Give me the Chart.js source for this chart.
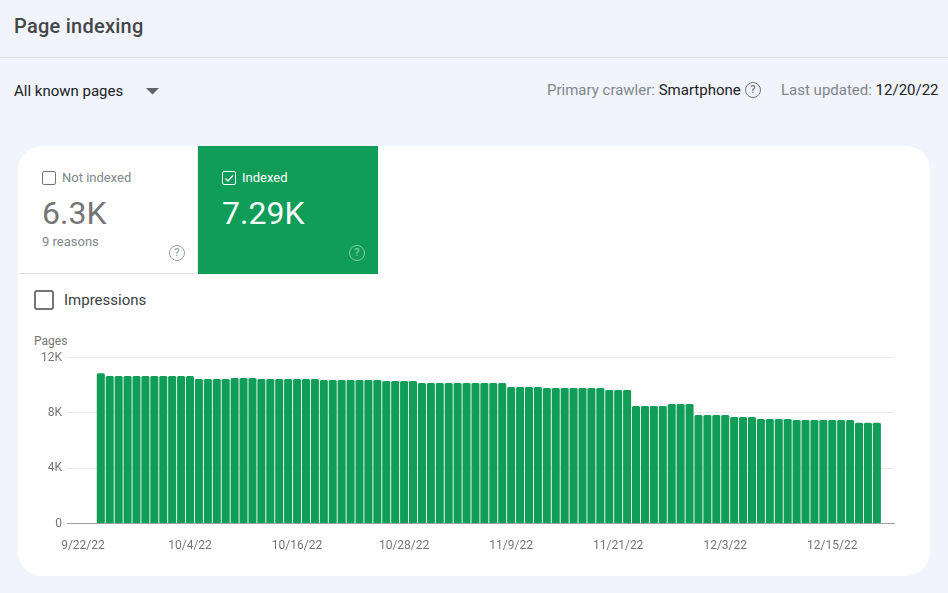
<!DOCTYPE html>
<html><head><meta charset="utf-8">
<script src="https://cdn.jsdelivr.net/npm/chart.js@4"></script>
<style>
html,body{margin:0;padding:0;width:948px;height:593px;overflow:hidden;background:#f1f4fd;font-family:Roboto,sans-serif}
.a{position:absolute;white-space:nowrap;line-height:1}
.help{position:absolute;box-sizing:border-box;width:16px;height:16px;border:1.6px solid #9aa0a6;border-radius:50%;color:#9aa0a6;font-size:11px;font-weight:500;line-height:13px;text-align:center}
.box{position:absolute;box-sizing:border-box;border:1.5px solid #757575;border-radius:2px}
canvas{position:absolute;left:0;top:0}
</style></head><body>
<div class="a" style="left:14px;top:16px;font-size:20px;font-weight:500;color:#444746;letter-spacing:.25px">Page indexing</div>
<div class="a" style="left:0;top:57px;width:948px;height:1px;background:#dadce0"></div>
<div class="a" style="left:14px;top:84px;font-size:15px;font-weight:400;color:#202124">All known pages</div>
<svg class="a" style="left:146px;top:88px" width="13" height="7"><polygon points="0,0 13,0 6.5,6.5" fill="#5f6368"/></svg>
<div class="a" style="left:547px;top:83px;font-size:15px;color:#80868b">Primary crawler: <span style="color:#202124">Smartphone</span></div>
<div class="help" style="left:745px;top:82px;border-color:#757575;color:#757575">?</div>
<div class="a" style="left:781px;top:83px;font-size:15px;color:#80868b">Last updated: <span style="color:#202124">12/20/22</span></div>

<div class="a" style="left:18px;top:146px;width:912px;height:430px;background:#fff;border-radius:24px"></div>
<div class="a" style="left:18px;top:273px;width:180px;height:1px;background:#e0e0e0"></div>
<div class="a" style="left:197px;top:146px;width:1px;height:127px;background:#eeeeee"></div>
<div class="a" style="left:198px;top:146px;width:180px;height:128px;background:#0f9d58"></div>

<div class="box" style="left:42px;top:171px;width:14px;height:14px"></div>
<div class="a" style="left:62px;top:171px;font-size:13px;color:#80868b">Not indexed</div>
<div class="a" style="left:42px;top:197px;font-size:32px;color:#757575">6.3K</div>
<div class="a" style="left:42px;top:235px;font-size:13px;color:#80868b">9 reasons</div>
<div class="help" style="left:169px;top:245px">?</div>

<div class="box" style="left:222px;top:171px;width:14px;height:14px;border-color:#fff"></div>
<svg class="a" style="left:222px;top:171px" width="14" height="14"><polyline points="3.5,7.5 6,10 11,4.5" fill="none" stroke="#fff" stroke-width="1.3"/></svg>
<div class="a" style="left:242px;top:171px;font-size:13px;color:#fff">Indexed</div>
<div class="a" style="left:222px;top:197px;font-size:32px;color:#fff">7.29K</div>
<div class="help" style="left:349px;top:245px;border-color:#7fcca8;color:#7fcca8">?</div>

<div class="box" style="left:34px;top:290px;width:20px;height:20px;border:2px solid #757575;border-radius:3px"></div>
<div class="a" style="left:64px;top:293px;font-size:15px;color:#3c4043">Impressions</div>
<div class="a" style="left:34px;top:335px;font-size:12px;color:#757575">Pages</div>

<canvas id="c" width="948" height="593"></canvas>
<script>
const tickDays = [0,12,24,36,48,60,72,84];
const tickLabels = ['9/22/22','10/4/22','10/16/22','10/28/22','11/9/22','11/21/22','12/3/22','12/15/22'];
const yTicks = [0,4000,8000,12000];
const yLabels = ['0','4K','8K','12K'];
const firstDay = 2;
const pages = [10860,
 10660,10660,10660,10660,10660,10660,10660,10660,10660,10660,
 10440,10440,10440,10440,
 10520,10520,10520,
 10440,10440,10440,10440,10440,10440,10440,
 10370,10370,10370,10370,10370,10370,10370,
 10300,10300,10300,10300,
 10150,10150,10150,10150,10150,10150,10150,10150,10150,10150,
 9870,9870,9870,9870,
 9795,9795,9795,9795,9795,9795,9795,
 9650,9650,9650,
 8495,8495,8495,8495,
 8640,8640,8640,
 7850,7850,7850,7850,
 7700,7700,7700,
 7560,7560,7560,7560,
 7480,7480,7480,7480,7480,7480,7480,
 7290,7290,7290];
const points = pages.map((v,i)=>({x:firstDay+i,y:v}));
const font = {family:'Roboto',size:12};
new Chart(document.getElementById('c'),{
 type:'bar',
 data:{datasets:[{data:points,backgroundColor:'#0f9d58',barPercentage:.9,categoryPercentage:1,borderRadius:{topLeft:1.5,topRight:1.5}}]},
 options:{responsive:false,animation:false,
  layout:{padding:{left:0,top:357.5,right:54,bottom:29.5}},
  plugins:{legend:{display:false},tooltip:{enabled:false}},
  scales:{
   x:{type:'linear',offset:false,min:-1.79,max:90.92,
    afterBuildTicks:s=>{s.ticks=tickDays.map(v=>({value:v}));},
    afterFit:s=>{s.height=40;},
    grid:{display:false,drawTicks:false},
    border:{color:'#9aa0a6',width:1},
    ticks:{autoSkip:false,maxRotation:0,minRotation:0,padding:15,color:'#757575',font,
      callback:v=>tickLabels[tickDays.indexOf(v)]}},
   y:{min:0,max:12000,
    afterBuildTicks:s=>{s.ticks=yTicks.map(v=>({value:v}));},
    afterFit:s=>{s.width=67;},
    grid:{color:'#e8eaed',drawTicks:false},
    border:{display:false},
    ticks:{padding:5,color:'#757575',font,
      callback:v=>yLabels[yTicks.indexOf(v)]}}
  }}
});
</script>
</body></html>
